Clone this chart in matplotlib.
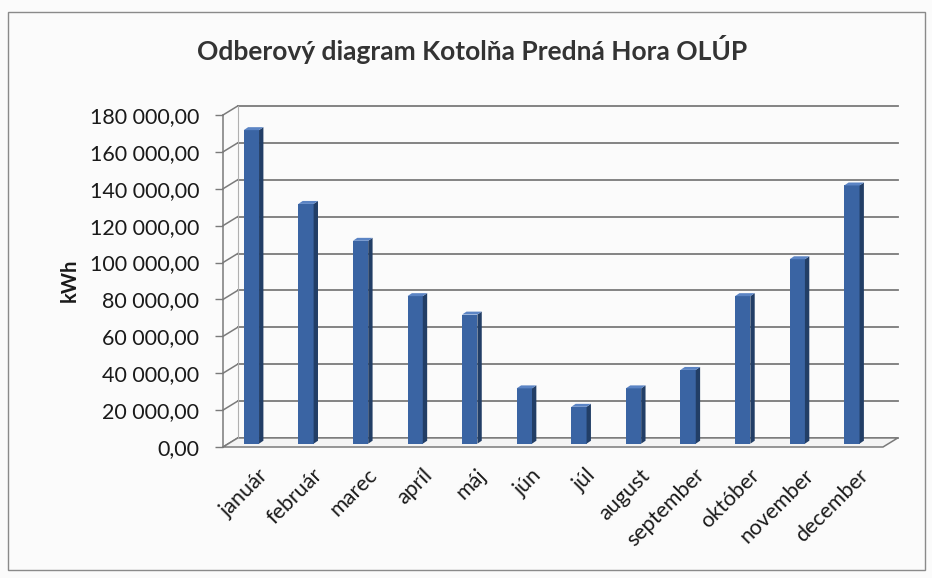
import matplotlib.pyplot as plt
from matplotlib.patches import Polygon, Rectangle

months = ["január", "február", "marec", "apríl", "máj", "jún", "júl",
          "august", "september", "október", "november", "december"]
values = [170000, 130000, 110000, 80000, 70000, 30000, 20000,
          30000, 40000, 80000, 100000, 140000]
yticks = list(range(0, 180001, 20000))

title = "Odberový diagram Kotolňa Predná Hora OLÚP"
ylabel = "kWh"


def fmt(v):
    # 180 000,00 style
    return f"{v:,.2f}".replace(",", " ").replace(".", ",")


plt.rcParams['font.family'] = ['Lato', 'DejaVu Sans']

W, H = 932, 578
fig = plt.figure(figsize=(W / 100, H / 100), dpi=100)
fig.patch.set_facecolor("#fbfbfb")

# outer chart frame
fig.patches.append(Rectangle((8 / W, 8 / H), (925 - 8) / W, (566 - 8) / H,
                             transform=fig.transFigure, fill=False,
                             ec="#8a8a8a", lw=1))

ax = fig.add_axes([223 / W, (H - 447) / H, 660 / W, 332 / H])
ax.set_facecolor("none")
xmin, xmax = -0.52, 11.57
ax.set_xlim(xmin, xmax)
ax.set_ylim(0, 180000)
for s in ax.spines.values():
    s.set_visible(False)

grid_c = "#7a7a7a"
dx, dy = 0.27, 4900      # depth of the back wall
bdx, bdy = 0.08, 1600    # depth of a bar
base = 1800              # bars stand a little inside the floor

# back wall gridlines and left wall
for v in yticks:
    ax.plot([xmin + dx, xmax + dx], [v + dy, v + dy], color=grid_c, lw=1.3,
            clip_on=False, zorder=1)
    ax.plot([xmin, xmin + dx], [v, v + dy], color=grid_c, lw=1.1,
            clip_on=False, zorder=1)
ax.plot([xmin, xmin], [0, yticks[-1]], color=grid_c, lw=1.1, clip_on=False)
ax.plot([xmin + dx, xmin + dx], [dy, yticks[-1] + dy], color="#b0b0b0",
        lw=0.8, clip_on=False)
floor = Polygon([(xmin, 0), (xmax, 0), (xmax + dx, dy), (xmin + dx, dy)],
                closed=True, fill=True, fc="#f4f4f4", ec=grid_c, lw=1.1,
                clip_on=False, zorder=1)
ax.add_patch(floor)

x = list(range(len(months)))
bars = ax.bar(x, values, width=0.28, bottom=base, color="#3a64a3", zorder=3)
for r in bars:
    x0 = r.get_x()
    x1 = x0 + r.get_width()
    y0 = r.get_y()
    h = y0 + r.get_height()
    side = Polygon([(x1, y0), (x1 + bdx, y0 + bdy), (x1 + bdx, h + bdy), (x1, h)],
                   closed=True, fc="#223e66", ec="none", zorder=3)
    top = Polygon([(x0, h), (x1, h), (x1 + bdx, h + bdy), (x0 + bdx, h + bdy)],
                  closed=True, fc="#5b84c4", ec="none", zorder=3)
    ax.add_patch(side)
    ax.add_patch(top)

ax.set_yticks(yticks)
ax.set_yticklabels([fmt(v) for v in yticks], fontsize=15.5, color="#1a1a1a")
ax.tick_params(axis="y", length=6, width=1, color=grid_c, pad=11)

ax.set_xticks([i + 0.12 for i in x])
ax.set_xticklabels(months, rotation=45, ha="right", rotation_mode="anchor",
                   fontsize=15.5, color="#1a1a1a")
ax.tick_params(axis="x", length=0, pad=13)

fig.text(70 / W, 1 - 280 / H, ylabel, rotation=90, ha="center", va="center",
         fontsize=14.5, fontweight="bold", color="#1a1a1a")

fig.text(472 / W, 1 - 50 / H, title, ha="center", va="center",
         fontsize=19, fontweight="bold", color="#333333")

fig.savefig("out.png", dpi=100, facecolor=fig.get_facecolor())
